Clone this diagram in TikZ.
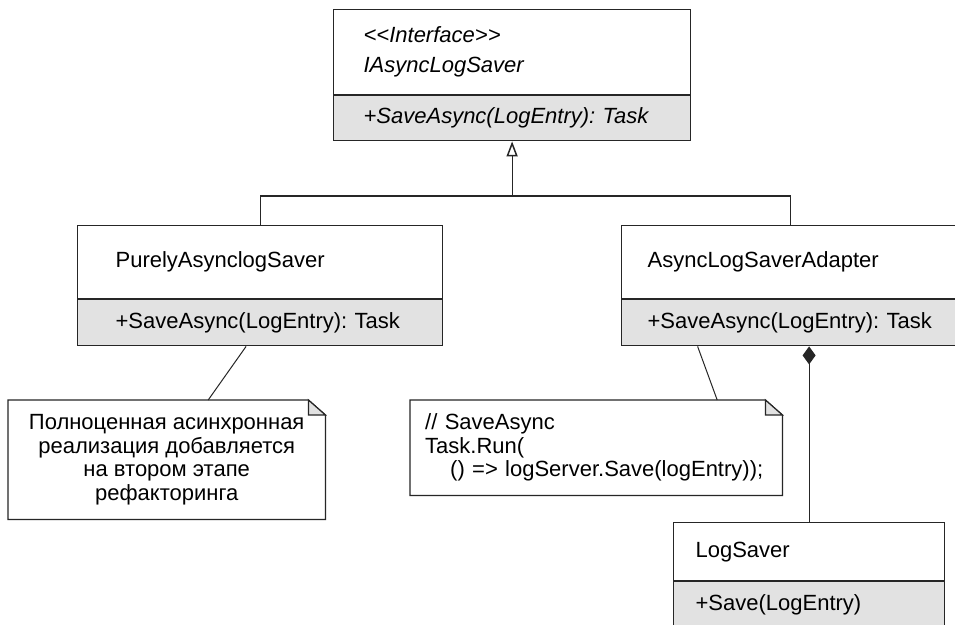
\documentclass[tikz,border=0pt]{standalone}
\usepackage{fontspec}
\setmainfont{Liberation Sans}
\frenchspacing
\usetikzlibrary{arrows.meta,positioning}
\definecolor{umlline}{HTML}{262626}
\definecolor{opbg}{HTML}{E2E2E2}
\tikzset{
  cls/.style={draw=umlline, line width=1.2pt, align=left, inner ysep=0pt, font=\fontsize{22}{24}\selectfont},
  clsname/.style={cls, fill=white, anchor=north west},
  clsop/.style={cls, fill=opbg, minimum height=46pt, below=0pt of #1},
  notebox/.style={align=center, inner sep=0pt, anchor=north west, font=\fontsize{22}{23.5}\selectfont},
  edge/.style={draw=umlline, line width=1.2pt},
  gen/.style={edge, -{Triangle[open, length=15pt, width=11pt, line width=1.5pt]}},
  comp/.style={edge, {Diamond[fill=umlline, length=18pt, width=13pt]}-},
}
% folded corner around a note node
\newcommand{\notefold}[1]{%
  \draw[edge] (#1.north west) -- ([xshift=-17pt]#1.north east) -- ([yshift=-15pt]#1.north east)
    -- (#1.south east) -- (#1.south west) -- cycle;
  \draw[edge, fill=opbg] ([xshift=-17pt]#1.north east) -- ([xshift=-17pt,yshift=-15pt]#1.north east)
    -- ([yshift=-15pt]#1.north east) -- cycle;
}

\begin{document}
\begin{tikzpicture}[x=1pt, y=-1pt]
  \clip (0,0) rectangle (955,624);
  \fill[white] (0,0) rectangle (955,624);

  % interface
  \node[clsname, inner xsep=30pt, text width=297pt, minimum height=85pt,
        font=\fontsize{22}{30}\selectfont\itshape] (ifaceN) at (333,9)
        {<{}<Interface>{}>\\IAsyncLogSaver};
  \node[clsop=ifaceN, inner xsep=30pt, text width=297pt, minimum height=45pt, font=\fontsize{22}{24}\selectfont\itshape] (ifaceM)
        {+SaveAsync(LogEntry): Task};

  % implementations
  \node[clsname, inner xsep=38pt, text width=289pt, minimum height=73pt] (pureN) at (77,225) {PurelyAsynclogSaver};
  \node[clsop=pureN, inner xsep=38pt, text width=289pt] (pureM) {+SaveAsync(LogEntry): Task};

  \node[clsname, inner xsep=26pt, text width=286pt, minimum height=73pt] (adaptN) at (621,225) {AsyncLogSaverAdapter};
  \node[clsop=adaptN, inner xsep=26pt, text width=286pt] (adaptM) {+SaveAsync(LogEntry): Task};

  \node[clsname, inner xsep=22pt, text width=227pt, minimum height=58pt] (saverN) at (673,522) {LogSaver};
  \node[clsop=saverN, inner xsep=22pt, text width=227pt] (saverM) {+Save(LogEntry)};

  % notes
  \node[notebox, minimum width=317pt, minimum height=119pt] (noteL) at (8,400)
        {Полноценная асинхронная\\реализация добавляется\\на втором этапе\\рефакторинга};
  \node[notebox, align=left, minimum width=372pt, minimum height=95pt, text width=342pt] (noteR) at (410,400)
        {// SaveAsync\\Task.Run(\\\hspace*{25pt}() => logServer.Save(logEntry));};
  \notefold{noteL}
  \notefold{noteR}

  % connectors
  \coordinate (hub) at (ifaceM.south |- 0,196);
  \draw[edge] (pureN.north) |- (hub) -| (adaptN.north);
  \draw[gen] (hub) -- (ifaceM.south);
  \draw[comp] (saverN.north |- adaptM.south) -- (saverN.north);
  \draw[edge, line width=1pt] ([xshift=-14pt]pureM.south) -- ([xshift=41.5pt]noteL.north);
  \draw[edge, line width=1pt] ([xshift=-93pt]adaptM.south) -- ([xshift=121pt]noteR.north);
\end{tikzpicture}
\end{document}
